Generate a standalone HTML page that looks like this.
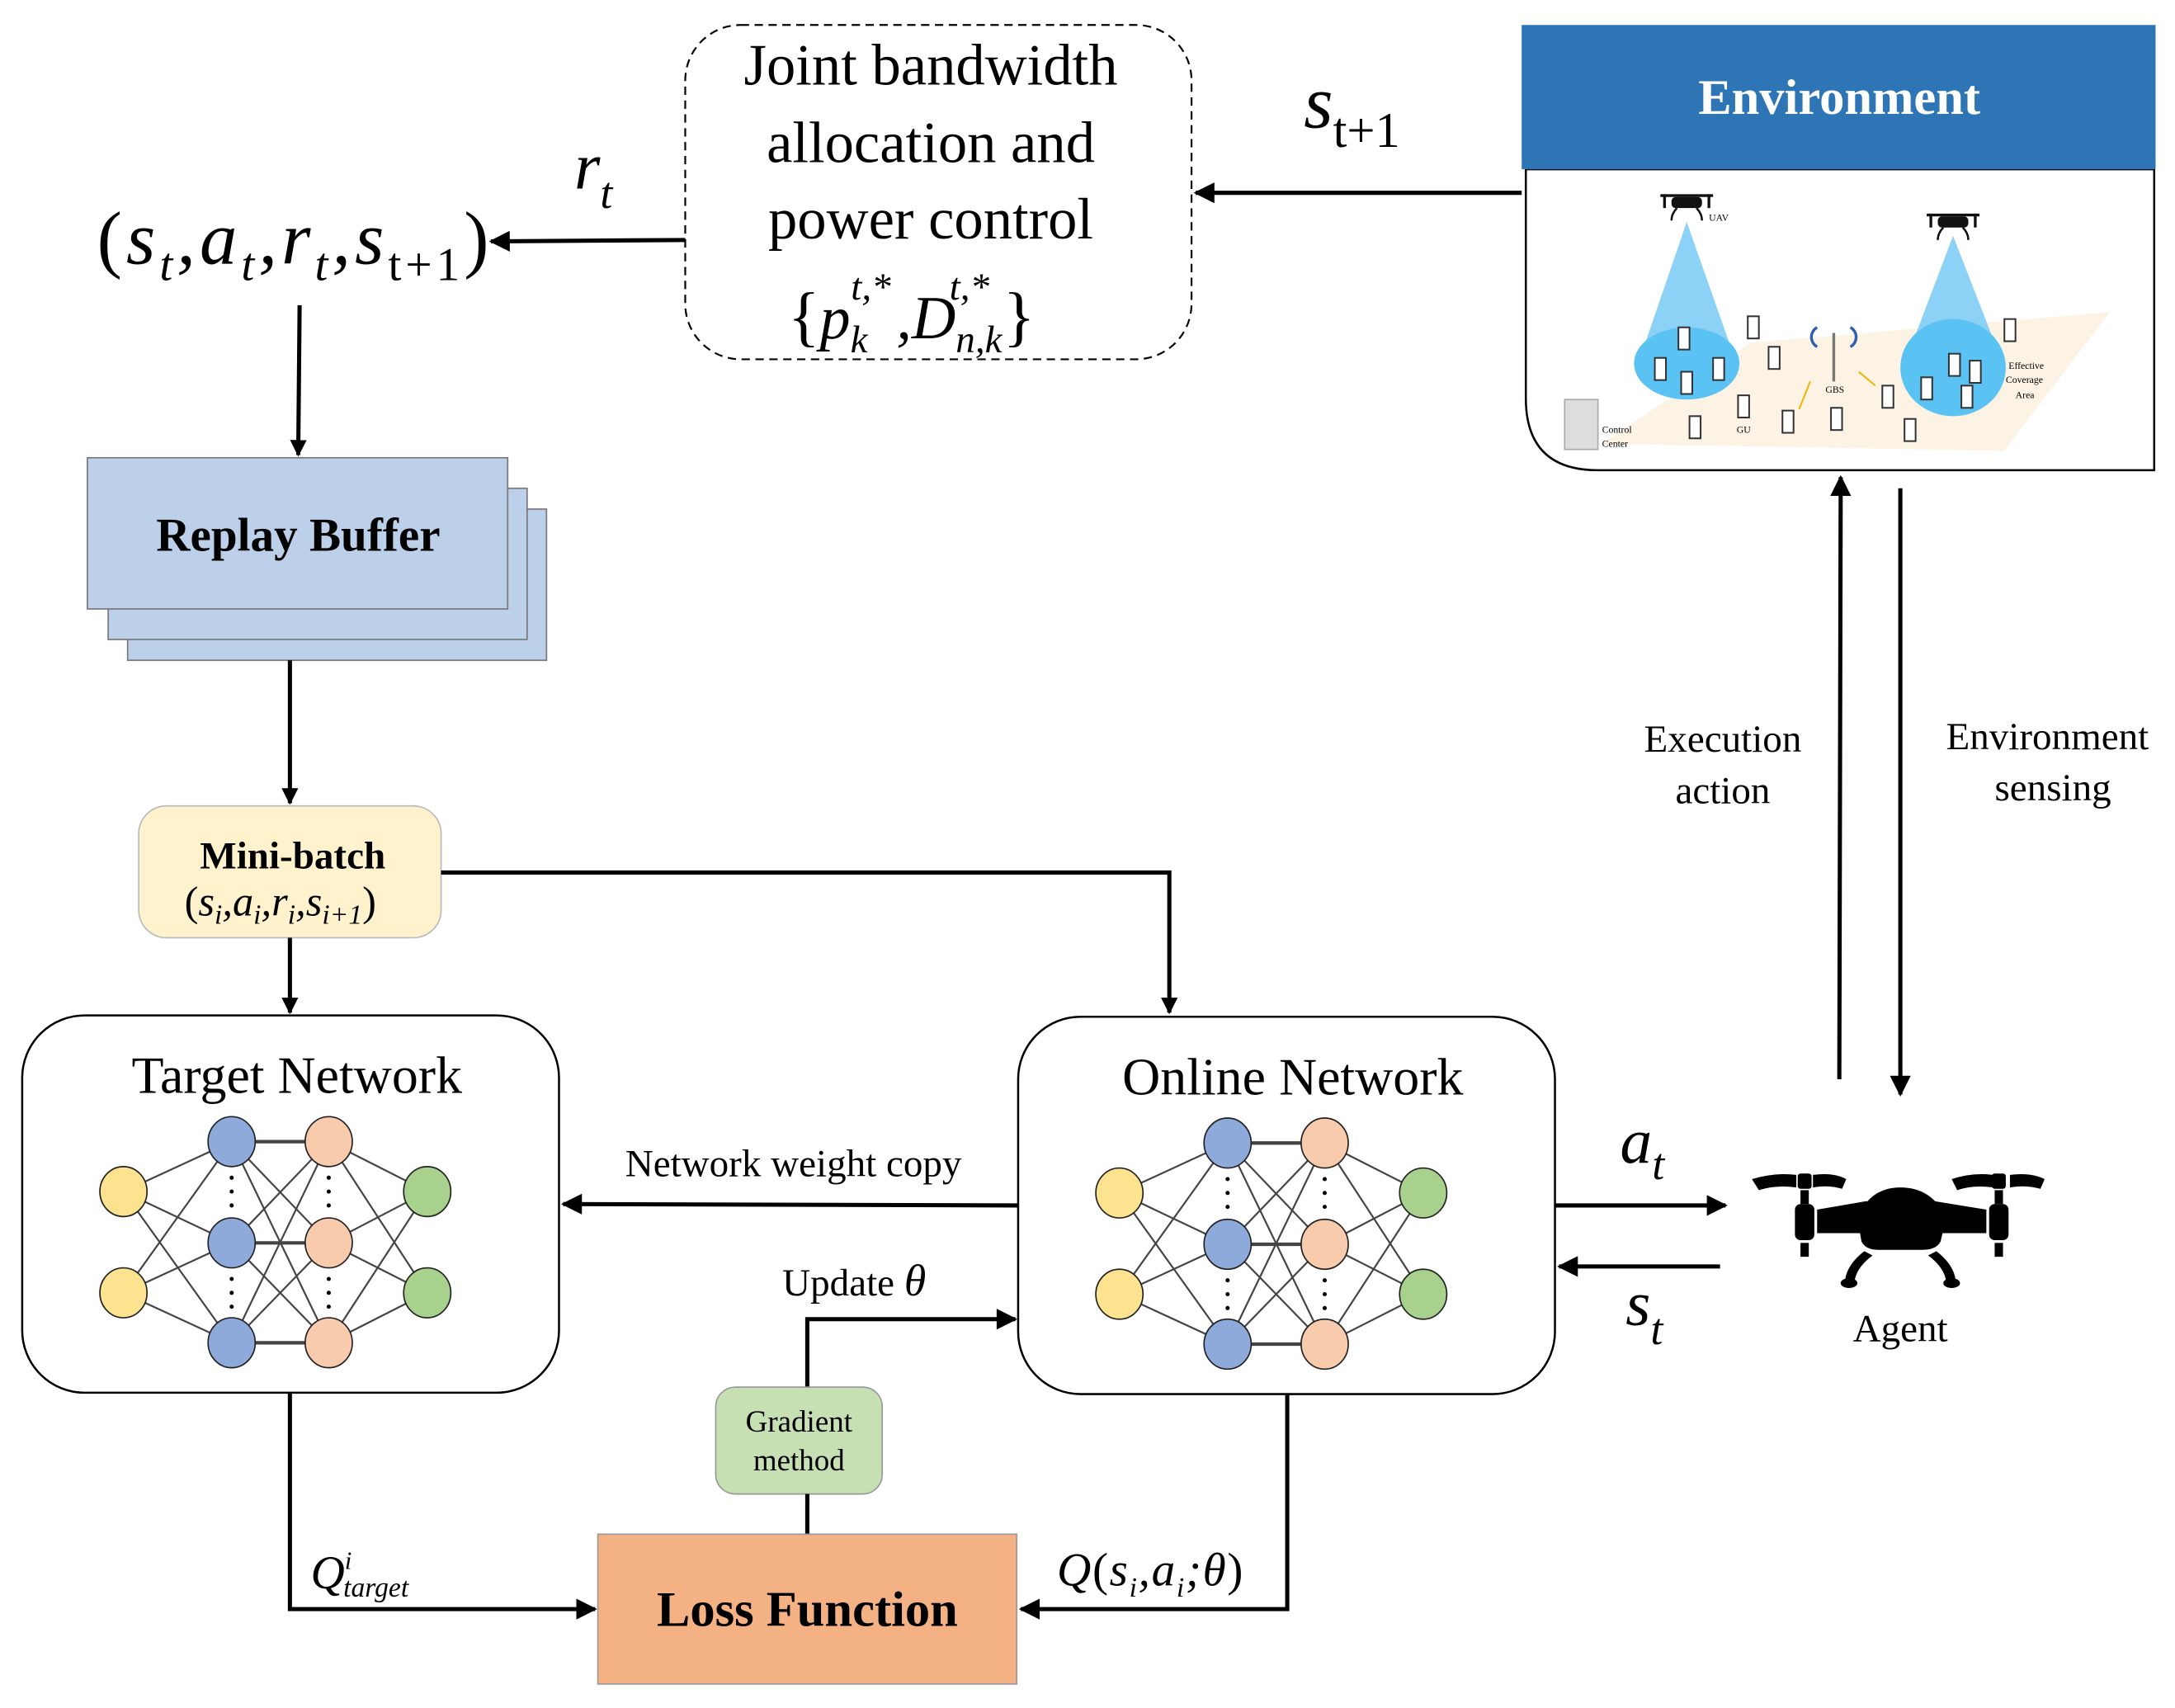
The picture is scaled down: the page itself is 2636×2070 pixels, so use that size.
<!DOCTYPE html>
<html><head><meta charset="utf-8"><style>
html,body{margin:0;padding:0;background:#fff;}
svg{display:block;}
text{font-family:"Liberation Serif",serif;}
</style></head><body>
<svg width="2636" height="2070" viewBox="0 0 1568 1231.3" preserveAspectRatio="none" xmlns="http://www.w3.org/2000/svg">
<defs>
<marker id="ar" viewBox="0 0 10 10" refX="9" refY="5" markerWidth="12" markerHeight="20" markerUnits="userSpaceOnUse" orient="auto"><path d="M0,0 L10,5 L0,10 z" fill="#000"/></marker>
<marker id="arb" viewBox="0 0 10 10" refX="9" refY="5" markerWidth="24" markerHeight="15" markerUnits="userSpaceOnUse" orient="auto"><path d="M0,0 L10,5 L0,10 z" fill="#000"/></marker>
<g id="net">
 <g stroke="#444" stroke-width="1.3">
  <line x1="89" y1="859" x2="167" y2="823"/><line x1="89" y1="859" x2="167" y2="896"/><line x1="89" y1="859" x2="167" y2="968"/>
  <line x1="89" y1="932" x2="167" y2="823"/><line x1="89" y1="932" x2="167" y2="896"/><line x1="89" y1="932" x2="167" y2="968"/>
  <line x1="167" y1="823" x2="237" y2="896"/><line x1="167" y1="823" x2="237" y2="968"/>
  <line x1="167" y1="896" x2="237" y2="823"/><line x1="167" y1="896" x2="237" y2="968"/>
  <line x1="167" y1="968" x2="237" y2="823"/><line x1="167" y1="968" x2="237" y2="896"/>
  <line x1="237" y1="823" x2="308" y2="859"/><line x1="237" y1="823" x2="308" y2="932"/>
  <line x1="237" y1="896" x2="308" y2="859"/><line x1="237" y1="896" x2="308" y2="932"/>
  <line x1="237" y1="968" x2="308" y2="859"/><line x1="237" y1="968" x2="308" y2="932"/>
 </g>
 <g stroke="#444" stroke-width="2.5">
  <line x1="167" y1="823" x2="237" y2="823"/><line x1="167" y1="896" x2="237" y2="896"/><line x1="167" y1="968" x2="237" y2="968"/>
 </g>
 <g stroke="#222" stroke-width="1">
  <ellipse cx="89" cy="859" rx="17" ry="18" fill="#fde38f"/><ellipse cx="89" cy="932" rx="17" ry="18" fill="#fde38f"/>
  <ellipse cx="167" cy="823" rx="17" ry="18" fill="#8eaadb"/><ellipse cx="167" cy="896" rx="17" ry="18" fill="#8eaadb"/><ellipse cx="167" cy="968" rx="17" ry="18" fill="#8eaadb"/>
  <ellipse cx="237" cy="823" rx="17" ry="18" fill="#f8cbad"/><ellipse cx="237" cy="896" rx="17" ry="18" fill="#f8cbad"/><ellipse cx="237" cy="968" rx="17" ry="18" fill="#f8cbad"/>
  <ellipse cx="308" cy="859" rx="17" ry="18" fill="#a9d18e"/><ellipse cx="308" cy="932" rx="17" ry="18" fill="#a9d18e"/>
 </g>
 <g fill="#000">
  <circle cx="167" cy="849" r="1.5"/><circle cx="167" cy="859" r="1.5"/><circle cx="167" cy="869" r="1.5"/>
  <circle cx="167" cy="922" r="1.5"/><circle cx="167" cy="932" r="1.5"/><circle cx="167" cy="942" r="1.5"/>
  <circle cx="237" cy="849" r="1.5"/><circle cx="237" cy="859" r="1.5"/><circle cx="237" cy="869" r="1.5"/>
  <circle cx="237" cy="922" r="1.5"/><circle cx="237" cy="932" r="1.5"/><circle cx="237" cy="942" r="1.5"/>
 </g>
</g>
</defs>

<!-- Joint box -->
<rect x="494" y="18" width="365" height="241" rx="40" fill="#fff" stroke="#000" stroke-width="1.3" stroke-dasharray="6,4"/>
<text x="671" y="61" font-size="42" text-anchor="middle">Joint bandwidth</text>
<text x="671" y="117" font-size="42" text-anchor="middle">allocation and</text>
<text x="671" y="172" font-size="42" text-anchor="middle">power control</text>
<text x="568" y="244" font-size="44" font-style="italic"><tspan font-style="normal" font-size="48">{</tspan>p<tspan font-size="28" dy="10">k</tspan><tspan font-size="28" dx="-12" dy="-38">t,*</tspan><tspan dy="28" dx="4">,D</tspan><tspan font-size="28" dy="10">n,k</tspan><tspan font-size="28" dx="-38" dy="-38">t,*</tspan><tspan font-style="normal" font-size="48" dx="10" dy="28">}</tspan></text>

<!-- tuple -->
<text x="70" y="190" font-size="54" font-style="italic" letter-spacing="3"><tspan font-style="normal">(</tspan>s<tspan font-size="34" dy="12">t</tspan><tspan dy="-12">,a</tspan><tspan font-size="34" dy="12">t</tspan><tspan dy="-12">,r</tspan><tspan font-size="34" dy="12">t</tspan><tspan dy="-12">,s</tspan><tspan font-size="34" dy="12" font-style="normal">t+1</tspan><tspan font-style="normal" dy="-12">)</tspan></text>
<text x="414" y="136" font-size="48" font-style="italic">r<tspan font-size="32" dy="14">t</tspan></text>
<line x1="494" y1="173" x2="354" y2="174" stroke="#000" stroke-width="3" marker-end="url(#arb)"/>

<!-- s_t+1 arrow -->
<text x="940" y="92" font-size="54" font-style="italic">s<tspan font-size="36" dy="14" font-style="normal">t+1</tspan></text>
<line x1="1097" y1="139" x2="862" y2="139" stroke="#000" stroke-width="3" marker-end="url(#arb)"/>

<!-- Environment -->
<path d="M1100,122 L1553,122 L1553,339 L1152,339 Q1100,339 1100,287 Z" fill="#fff" stroke="#000" stroke-width="1.5"/>
<rect x="1097" y="18" width="457" height="104" fill="#2e75b6"/>
<text x="1326" y="82" font-size="36" font-weight="bold" fill="#fff" text-anchor="middle">Environment</text>
<!-- scene -->
<polygon points="1155,320 1262,247 1521,225 1445,325" fill="#fdf3e5"/>
<polygon points="1216,160 1180,265 1253,265" fill="#7fcdf5" opacity="0.9"/>
<ellipse cx="1216" cy="262" rx="38" ry="26" fill="#5bc2f4"/>
<polygon points="1408,170 1372,265 1445,265" fill="#7fcdf5" opacity="0.9"/>
<ellipse cx="1408" cy="265" rx="38" ry="35" fill="#5bc2f4"/>
<g fill="#111">
<rect x="1205" y="142" width="22" height="8" rx="3"/><rect x="1197" y="140" width="38" height="2"/><rect x="1199" y="140" width="2" height="10"/><rect x="1231" y="140" width="2" height="10"/>
<path d="M1209,150 q-4,4 -4,9 M1223,150 q4,4 4,9" stroke="#111" stroke-width="1.5" fill="none"/>
<rect x="1397" y="156" width="22" height="8" rx="3"/><rect x="1389" y="154" width="38" height="2"/><rect x="1391" y="154" width="2" height="10"/><rect x="1423" y="154" width="2" height="10"/>
<path d="M1401,164 q-4,4 -4,9 M1415,164 q4,4 4,9" stroke="#111" stroke-width="1.5" fill="none"/>
</g>
<g fill="#fff" stroke="#333" stroke-width="1.2">
<rect x="1210" y="236" width="8" height="16"/><rect x="1193" y="258" width="8" height="16"/><rect x="1235" y="258" width="8" height="16"/><rect x="1212" y="268" width="8" height="16"/>
<rect x="1260" y="228" width="8" height="16"/><rect x="1275" y="250" width="8" height="16"/><rect x="1253" y="285" width="8" height="16"/><rect x="1218" y="300" width="8" height="16"/>
<rect x="1285" y="296" width="8" height="16"/><rect x="1320" y="294" width="8" height="16"/><rect x="1357" y="278" width="8" height="16"/><rect x="1373" y="302" width="8" height="16"/>
<rect x="1405" y="255" width="8" height="16"/><rect x="1420" y="260" width="8" height="16"/><rect x="1385" y="272" width="8" height="16"/><rect x="1414" y="278" width="8" height="16"/><rect x="1445" y="230" width="8" height="16"/>
</g>
<rect x="1128" y="288" width="24" height="36" fill="#ddd" stroke="#aaa"/>
<text x="1232" y="159" font-size="7" font-family="Liberation Sans">UAV</text>
<text x="1155" y="312" font-size="7" font-family="Liberation Sans">Control</text><text x="1155" y="322" font-size="7" font-family="Liberation Sans">Center</text>
<text x="1316" y="283" font-size="7" font-family="Liberation Sans">GBS</text><text x="1252" y="312" font-size="7" font-family="Liberation Sans">GU</text>
<text x="1448" y="266" font-size="7" font-family="Liberation Sans">Effective</text><text x="1446" y="276" font-size="7" font-family="Liberation Sans">Coverage</text><text x="1453" y="287" font-size="7" font-family="Liberation Sans">Area</text>
<path d="M1310,250 a8,8 0 0 1 0,-14 M1334,250 a8,8 0 0 0 0,-14" stroke="#2f5fb0" stroke-width="2" fill="none"/>
<line x1="1322" y1="240" x2="1322" y2="275" stroke="#777" stroke-width="2"/>
<path d="M1305,275 l-8,20 M1340,268 l12,10" stroke="#f0b400" stroke-width="1.2"/>

<!-- Replay buffer -->
<rect x="92" y="367" width="302" height="109" fill="#bdd0e9" stroke="#777" stroke-width="1"/>
<rect x="78" y="352" width="302" height="109" fill="#bdd0e9" stroke="#777" stroke-width="1"/>
<rect x="63" y="330" width="303" height="109" fill="#bdd0e9" stroke="#777" stroke-width="1"/>
<text x="215" y="397" font-size="34" font-weight="bold" text-anchor="middle">Replay Buffer</text>
<line x1="216" y1="220" x2="215" y2="328" stroke="#000" stroke-width="3" marker-end="url(#ar)"/>
<line x1="209" y1="476" x2="209" y2="579" stroke="#000" stroke-width="3" marker-end="url(#ar)"/>

<!-- Mini-batch -->
<rect x="100" y="581" width="218" height="95" rx="20" fill="#fff2cc" stroke="#bbb" stroke-width="1"/>
<text x="211" y="626" font-size="28" font-weight="bold" text-anchor="middle">Mini-batch</text>
<text x="133" y="660" font-size="30" font-style="italic"><tspan font-style="normal">(</tspan>s<tspan font-size="20" dy="6">i</tspan><tspan dy="-6">,a</tspan><tspan font-size="20" dy="6">i</tspan><tspan dy="-6">,r</tspan><tspan font-size="20" dy="6">i</tspan><tspan dy="-6">,s</tspan><tspan font-size="20" dy="6">i+1</tspan><tspan font-style="normal" dy="-6">)</tspan></text>
<line x1="209" y1="676" x2="209" y2="730" stroke="#000" stroke-width="3" marker-end="url(#ar)"/>
<polyline points="318,629 843,629 843,730" fill="none" stroke="#000" stroke-width="3" marker-end="url(#ar)"/>

<!-- network boxes -->
<rect x="16" y="732" width="387" height="272" rx="45" fill="#fff" stroke="#000" stroke-width="1.5"/>
<text x="214" y="788" font-size="38" text-anchor="middle">Target Network</text>
<use href="#net"/>
<rect x="734" y="733" width="387" height="272" rx="45" fill="#fff" stroke="#000" stroke-width="1.5"/>
<text x="932" y="789" font-size="38" text-anchor="middle">Online Network</text>
<use href="#net" x="718" y="1"/>

<text x="572" y="848" font-size="28" text-anchor="middle">Network weight copy</text>
<line x1="734" y1="869" x2="406" y2="868" stroke="#000" stroke-width="3" marker-end="url(#arb)"/>
<text x="564" y="934" font-size="28">Update <tspan font-style="italic" font-size="32">θ</tspan></text>
<polyline points="582,1000 582,951 732,951" fill="none" stroke="#000" stroke-width="3" marker-end="url(#arb)"/>

<rect x="516" y="1000" width="120" height="77" rx="14" fill="#c6e0b4" stroke="#999" stroke-width="1"/>
<text x="576" y="1032" font-size="22" text-anchor="middle">Gradient</text>
<text x="576" y="1060" font-size="22" text-anchor="middle">method</text>
<line x1="582" y1="1077" x2="582" y2="1106" stroke="#000" stroke-width="3"/>

<rect x="431" y="1106" width="302" height="108" fill="#f4b183" stroke="#999" stroke-width="1"/>
<text x="582" y="1172" font-size="36" font-weight="bold" text-anchor="middle">Loss Function</text>
<polyline points="209,1004 209,1160 429,1160" fill="none" stroke="#000" stroke-width="3" marker-end="url(#arb)"/>
<text x="224" y="1145" font-size="34" font-style="italic">Q<tspan font-size="18" dy="-14">i</tspan><tspan font-size="20" dx="-6" dy="20">target</tspan></text>
<polyline points="928,1005 928,1160 736,1160" fill="none" stroke="#000" stroke-width="3" marker-end="url(#arb)"/>
<text x="762" y="1143" font-size="34" font-style="italic" letter-spacing="1">Q<tspan font-style="normal">(</tspan>s<tspan font-size="20" dy="8">i</tspan><tspan dy="-8">,a</tspan><tspan font-size="20" dy="8">i</tspan><tspan dy="-8">;θ</tspan><tspan font-style="normal">)</tspan></text>

<!-- agent arrows -->
<text x="1168" y="838" font-size="46" font-style="italic">a<tspan font-size="32" dy="12">t</tspan></text>
<line x1="1121" y1="869" x2="1244" y2="869" stroke="#000" stroke-width="3" marker-end="url(#arb)"/>
<line x1="1240" y1="913" x2="1124" y2="913" stroke="#000" stroke-width="3" marker-end="url(#arb)"/>
<text x="1172" y="955" font-size="46" font-style="italic">s<tspan font-size="32" dy="14">t</tspan></text>

<line x1="1326" y1="778" x2="1327" y2="344" stroke="#000" stroke-width="3" marker-end="url(#arb)"/>
<line x1="1370" y1="352" x2="1370" y2="789" stroke="#000" stroke-width="3" marker-end="url(#arb)"/>
<text x="1242" y="542" font-size="28" text-anchor="middle">Execution</text>
<text x="1242" y="579" font-size="28" text-anchor="middle">action</text>
<text x="1476" y="540" font-size="28" text-anchor="middle">Environment</text>
<text x="1480" y="577" font-size="28" text-anchor="middle">sensing</text>

<!-- Agent drone -->
<g fill="#000">
<path d="M1263,850 Q1280,845 1295,847 L1295,856 Q1280,854 1268,858 Z"/>
<path d="M1307,847 Q1322,845 1331,850 L1328,857 Q1318,854 1307,856 Z"/>
<path d="M1407,850 Q1422,845 1437,847 L1437,856 Q1422,854 1411,858 Z"/>
<path d="M1449,847 Q1464,845 1474,850 L1471,857 Q1460,854 1449,856 Z"/>
<rect x="1296" y="846" width="10" height="11" rx="2"/><rect x="1298" y="858" width="6" height="10"/>
<rect x="1294" y="868" width="14" height="26" rx="4"/><rect x="1298" y="896" width="6" height="10"/>
<rect x="1436" y="846" width="10" height="11" rx="2"/><rect x="1438" y="858" width="6" height="10"/>
<rect x="1434" y="868" width="14" height="26" rx="4"/><rect x="1438" y="896" width="6" height="10"/>
<path d="M1310,872 L1345,866 L1395,866 L1432,872 L1432,889 L1310,889 Z"/>
<path d="M1339,878 Q1348,856 1370,856 Q1393,856 1403,878 L1399,895 Q1396,901 1386,901 L1354,901 Q1345,901 1342,895 Z"/>
<path d="M1344,902 Q1331,912 1330,924 L1337,924 Q1338,914 1350,905 Z"/>
<path d="M1396,902 Q1409,912 1410,924 L1403,924 Q1402,914 1390,905 Z"/>
<ellipse cx="1333" cy="925" rx="6" ry="3.5"/><ellipse cx="1407" cy="925" rx="6" ry="3.5"/>
</g>
<text x="1370" y="967" font-size="28" text-anchor="middle">Agent</text>
</svg>
</body></html>
